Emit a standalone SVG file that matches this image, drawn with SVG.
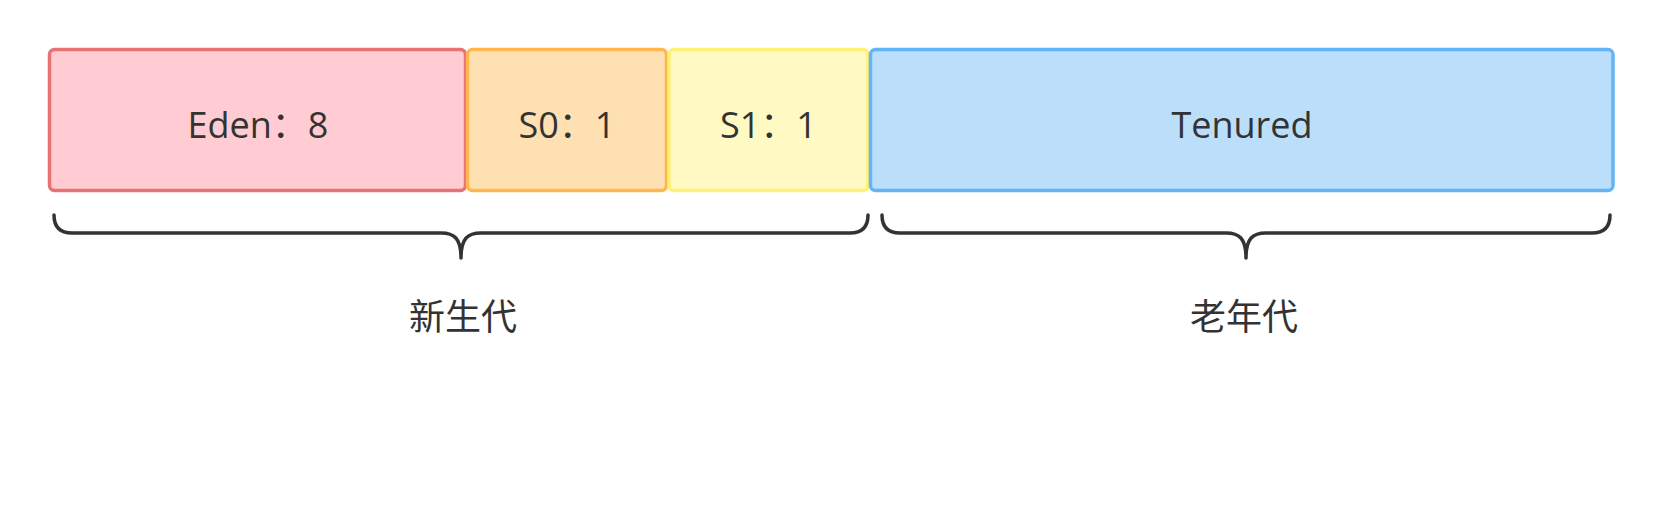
<svg xmlns="http://www.w3.org/2000/svg" width="1664" height="508" viewBox="0 0 1664 508">
  <style>
    .box { stroke-width: 3.5; }
    .lbl { font-family: "Open Sans", "Noto Sans", "Noto Sans CJK SC", sans-serif; font-size: 36px; fill: #333333; text-anchor: middle; }
    .cjk { font-family: "Noto Sans CJK SC", sans-serif; font-size: 36px; fill: #333333; text-anchor: middle; }
    .brace { fill: none; stroke: #333333; stroke-width: 3.5; stroke-linecap: round; stroke-linejoin: round; }
  </style>
  <rect width="1664" height="508" fill="#ffffff"/>
  <g id="eden">
    <rect class="box" x="49.5" y="49.5" width="416" height="141" rx="5" fill="#ffccd3" stroke="#e57373"/>
    <text class="lbl" x="258" y="138">Eden：8</text>
  </g>
  <g id="s0">
    <rect class="box" x="467.5" y="49.5" width="199" height="141" rx="5" fill="#ffe0b2" stroke="#ffb74d"/>
    <text class="lbl" x="567" y="138">S0：1</text>
  </g>
  <g id="s1">
    <rect class="box" x="669" y="49.5" width="199" height="141" rx="5" fill="#fff9c4" stroke="#fff176"/>
    <text class="lbl" x="768.5" y="138">S1：1</text>
  </g>
  <g id="tenured">
    <rect class="box" x="870.5" y="49.5" width="742.5" height="141" rx="5" fill="#bbdefb" stroke="#64b5f6"/>
    <text class="lbl" x="1242" y="138">Tenured</text>
  </g>
  <g id="connectors">
    <path class="brace" d="M54,215 Q54,233 72,233 L441,233 C454,233 461,238 461,258 C461,238 468,233 481,233 L850,233 Q868,233 868,215"/>
    <path class="brace" d="M882,215 Q882,233 900,233 L1226,233 C1239,233 1246,238 1246,258 C1246,238 1253,233 1266,233 L1592,233 Q1610,233 1610,215"/>
  </g>
  <g id="young-label">
    <text class="cjk" x="463" y="330">新生代</text>
  </g>
  <g id="old-label">
    <text class="cjk" x="1244" y="330">老年代</text>
  </g>
</svg>
